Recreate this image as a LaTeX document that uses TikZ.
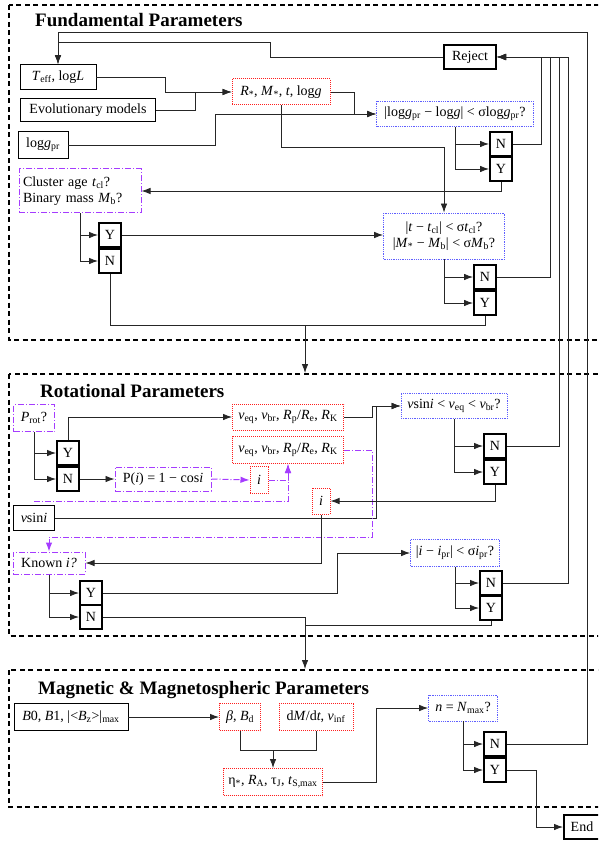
\documentclass[tikz,border=0pt]{standalone}
\usepackage{fontspec}
\setmainfont{Liberation Serif}
\usetikzlibrary{arrows.meta}
\definecolor{askcol}{RGB}{165,60,255}
\definecolor{calccol}{RGB}{255,30,30}
\definecolor{testcol}{RGB}{95,95,255}
\newcommand{\sbs}[1]{\textsubscript{#1}}
\tikzset{
  frame/.style={line width=1.8pt, dash pattern=on 5pt off 3.5pt},
  title/.style={font=\fontsize{19}{22}\selectfont\bfseries, anchor=west, inner sep=0pt},
  plain/.style={draw, line width=0.9pt, minimum height=25pt, inner xsep=4pt, inner ysep=2pt},
  yn/.style={draw, line width=2pt, minimum width=22pt, minimum height=24.5pt, inner sep=0pt},
  calc/.style={draw=calccol, line width=1pt, densely dotted, minimum height=26pt, inner xsep=4pt, inner ysep=2pt},
  test/.style={draw=testcol, line width=0.8pt, densely dotted, minimum height=25pt, inner xsep=3pt, inner ysep=2pt},
  ask/.style={draw=askcol, line width=1pt, dash pattern=on 6pt off 2pt on 1pt off 2pt, minimum height=24pt, inner xsep=4pt, inner ysep=3pt},
  link/.style={black!85, line width=0.8pt, -{Latex[length=9pt,width=6.5pt]}},
  plink/.style={askcol, line width=1pt, dash pattern=on 6pt off 2pt on 1pt off 2pt, -{Latex[length=9pt,width=6.5pt]}},
}
\begin{document}
\begin{tikzpicture}[x=1pt, y=-1pt, font=\fontsize{14}{16}\selectfont]
\useasboundingbox (0,0) rectangle (598,842);
\clip (0,0) rectangle (598,842);

% frames
\draw[frame] (9,5) rectangle (615,340);
\draw[frame] (9,374) rectangle (615,636);
\draw[frame] (9,670) rectangle (615,807);
\node[title] (ftitle) at (35,20) {Fundamental Parameters};
\node[title] (rtitle) at (40,391) {Rotational Parameters};
\node[title] (mtitle) at (38,690) {Magnetic \& Magnetospheric Parameters};

% fundamental parameters
\node[plain, minimum width=76pt] (teff) at (58,77) {\textit{T}\sbs{eff}, log\textit{L}};
\node[plain, minimum width=135pt, minimum height=23pt] (evo) at (88,110) {Evolutionary models};
\node[plain, minimum width=50pt, minimum height=27pt] (loggpr) at (43,145) {log\textit{g}\sbs{pr}};
\node[calc, minimum width=98pt] (rstar) at (281,92) {\textit{R}\sbs{*}, \textit{M}\sbs{*}, \textit{t}, log\textit{g}};
\node[yn, minimum width=52pt] (reject) at (470,57) {Reject};
\node[test, minimum width=157pt] (q1) at (455,114) {|log\textit{g}\sbs{pr} − log\textit{g}| < σlog\textit{g}\sbs{pr}?};
\node[yn] (n1) at (501,144) {N};
\node[yn] (y1) at (501,169) {Y};
\node[ask, text width=114pt, minimum height=44pt, align=left] (clus) at (80,191)
  {Cluster age \textit{t}\sbs{cl}?\\Binary mass \textit{M}\sbs{b}?};
\node[yn] (cy) at (110,235) {Y};
\node[yn] (cn) at (110,261) {N};
\node[test, minimum width=121pt, minimum height=46pt, align=center] (q2) at (444,236)
  {|\textit{t} − \textit{t}\sbs{cl}| < σ\textit{t}\sbs{cl}?\\|\textit{M}\sbs{*} − \textit{M}\sbs{b}| < σ\textit{M}\sbs{b}?};
\node[yn] (n2) at (485,277) {N};
\node[yn] (y2) at (485,303) {Y};

\draw[link] (teff.east) -| (165,92) -- (rstar.west);
\draw[link] (evo.east) -| (195,92) -- (rstar.west);
\draw[link] (loggpr.east) -| (215,114) -- (q1.west);
\draw[link] (rstar.east) -| (354,114) -- (q1.west);
\draw[link] (rstar.south) |- (444,147) -- (q2.north);
\draw[link] (q1.south) |- (n1.west);
\draw[link] (q1.south) |- (y1.west);
\draw[link] (n1.east) -| (541,57) -- (reject.east);
\draw[link] (y1.south) |- (clus.east);
\draw[link] (reject.west) -| (270,42) -| (teff.north);
\draw[link] (clus.south) |- (cy.west);
\draw[link] (clus.south) |- (cn.west);
\draw[link] (cy.east) -- (cy.east -| q2.west);
\draw[link] (q2.south) |- (n2.west);
\draw[link] (q2.south) |- (y2.west);
\draw[link] (n2.east) -| (550,57) -- (reject.east);
\coordinate (rotin) at (305,373);
\draw[black!85, line width=0.8pt] (y2.south) |- (305,325);
\draw[link] (cn.south) |- (305,325) -- (rotin);

% rotational parameters
\node[ask, minimum width=41pt, minimum height=27pt] (prot) at (34,418) {\textit{P}\sbs{rot}?};
\node[yn] (py) at (68,453) {Y};
\node[yn] (pn) at (68,479) {N};
\node[calc, minimum width=111pt] (v1) at (288,417) {\textit{v}\sbs{eq}, \textit{v}\sbs{br}, \textit{R}\sbs{p}/\textit{R}\sbs{e}, \textit{R}\sbs{K}};
\node[calc, minimum width=111pt, minimum height=27pt] (v2) at (288,450) {\textit{v}\sbs{eq}, \textit{v}\sbs{br}, \textit{R}\sbs{p}/\textit{R}\sbs{e}, \textit{R}\sbs{K}};
\node[ask, minimum width=96pt] (pi) at (163,479) {P(\textit{i}) = 1 − cos\textit{i}};
\node[calc, minimum width=18pt, minimum height=27pt, inner xsep=2pt] (ia) at (259,480) {\textit{i}};
\node[plain, minimum width=41pt] (vs) at (34,518) {\textit{v}sin\textit{i}};
\node[test, minimum width=106pt] (q3) at (454,406) {\textit{v}sin\textit{i} < \textit{v}\sbs{eq} < \textit{v}\sbs{br}?};
\node[yn] (n3) at (495,446) {N};
\node[yn] (y3) at (495,472) {Y};
\node[calc, minimum width=18pt, minimum height=26pt, inner xsep=2pt] (ib) at (321,501) {\textit{i}};
\node[ask, minimum width=72pt, minimum height=22pt, inner ysep=1pt] (ki) at (49,563) {Known \textit{i?}};
\node[yn] (ky) at (91,593) {Y};
\node[yn] (kn) at (91,617) {N};
\node[test, minimum width=89pt, minimum height=27pt] (q4) at (455,553) {|\textit{i} − \textit{i}\sbs{pr}| < σ\textit{i}\sbs{pr}?};
\node[yn] (n4) at (491,583) {N};
\node[yn] (y4) at (491,608) {Y};

\draw[link] (prot.south) |- (py.west);
\draw[link] (prot.south) |- (pn.west);
\draw[link] (py.north) |- (v1.west);
\draw[link] (pn.east) -- (pi.west);
\draw[plink] (pi.east) -- (ia.west);
\draw[plink] (ia.east) -| (v2.south);
\coordinate (pstart) at (34,501);
\draw[plink] (pstart) -| (v2.south);
\draw[link] (v1.east) -| (372,406) -- (q3.west);
\draw[link] (vs.east) -| (376,406) -- (q3.west);
\draw[plink] (v2.east) -| (372,537) -| (ki.north);
\draw[link] (q3.south) |- (n3.west);
\draw[link] (q3.south) |- (y3.west);
\draw[link] (n3.east) -| (559,57) -- (reject.east);
\draw[link] (y3.south) |- (ib.east);
\draw[link] (ib.south) |- (ki.east);
\draw[link] (ki.south) |- (ky.west);
\draw[link] (ki.south) |- (kn.west);
\draw[link] (ky.east) -| (337,553) -- (q4.west);
\draw[link] (q4.south) |- (n4.west);
\draw[link] (q4.south) |- (y4.west);
\draw[link] (n4.east) -| (568,57) -- (reject.east);
\coordinate (magin) at (305,669);
\draw[black!85, line width=0.8pt] (y4.south) |- (305,625);
\draw[link] (kn.east) -| (magin);

% magnetic & magnetospheric parameters
\node[plain, minimum width=114pt, minimum height=27pt] (b0) at (71,717) {\textit{B}0, \textit{B}1, |<\textit{B}\sbs{z}>|\sbs{max}};
\node[calc, minimum width=41pt, minimum height=27pt] (beta) at (240,717) {\textit{β}, \textit{B}\sbs{d}};
\node[calc, minimum width=74pt, minimum height=27pt] (dm) at (316,717) {d\textit{M}/d\textit{t}, \textit{v}\sbs{inf}};
\node[calc, minimum width=99pt, minimum height=27pt] (eta) at (273,782) {η\sbs{*}, \textit{R}\sbs{A}, τ\sbs{J}, \textit{t}\sbs{S,max}};
\node[test, minimum width=69pt, minimum height=26pt] (q5) at (463,708) {\textit{n} = \textit{N}\sbs{max}?};
\node[yn] (n5) at (495,744) {N};
\node[yn] (y5) at (495,770) {Y};
\node[yn, minimum width=36pt] (fin) at (582,827) {End};

\draw[link] (b0.east) -- (beta.west);
\coordinate (bjoin) at (273,750);
\draw[black!85, line width=0.8pt] (beta.south) |- (bjoin);
\draw[black!85, line width=0.8pt] (dm.south) |- (bjoin);
\draw[link] (bjoin) -- (eta.north);
\draw[link] (eta.east) -| (376,708) -- (q5.west);
\draw[link] (q5.south) |- (n5.west);
\draw[link] (q5.south) |- (y5.west);
\draw[link] (n5.east) -| (587,32) -| (teff.north);
\draw[link] (y5.east) -| (536,827) -- (fin.west);
\end{tikzpicture}
\end{document}
